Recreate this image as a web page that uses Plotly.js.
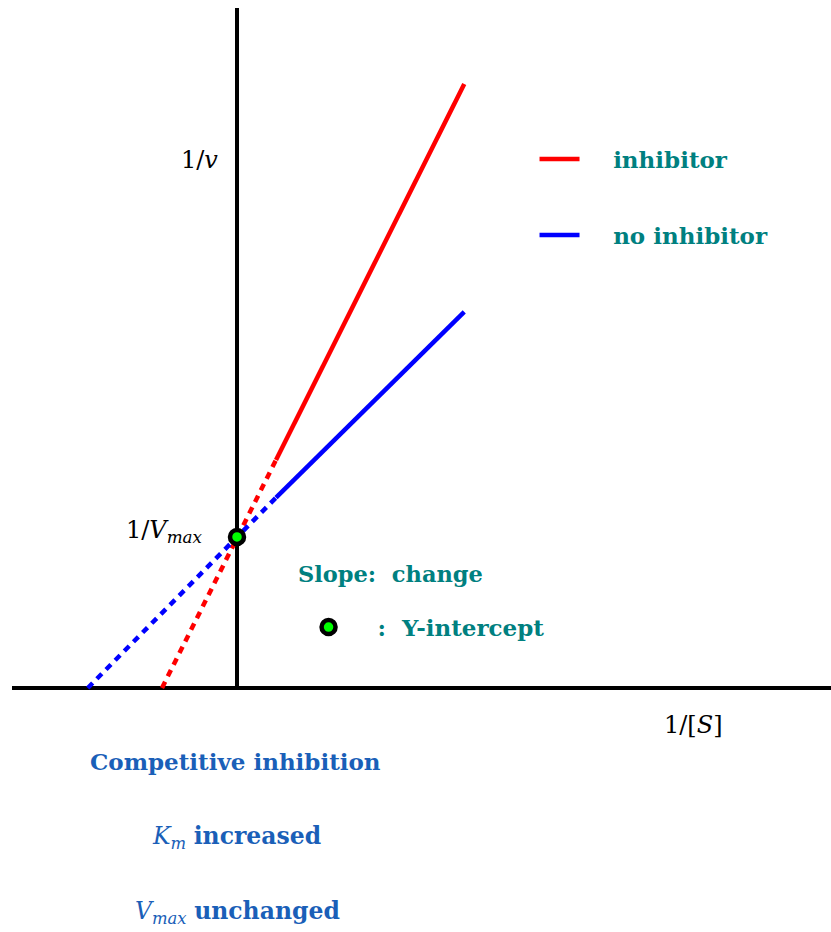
<!DOCTYPE html>
<html>
<head>
<meta charset="utf-8">
<script src="https://cdn.plot.ly/plotly-3.0.1.min.js"></script>
<style>html,body{margin:0;padding:0;background:#fff;}#chart{width:831px;height:932px;}</style>
</head>
<body>
<div id="chart"></div>
<script>
// Lineweaver-Burk data (x = 1/[S], y = 1/v)
const inhibitorExtX = [-1.0, 0.52];
const inhibitorExtY = [0.0, 1.51];
const inhibitorX = [0.52, 3.03];
const inhibitorY = [1.51, 4.0];
const noInhibitorExtX = [-1.99, 0.52];
const noInhibitorExtY = [0.0, 1.26];
const noInhibitorX = [0.52, 3.03];
const noInhibitorY = [1.26, 2.49];
const interceptX = [0];
const interceptY = [1.0];

const seriesNames = ['inhibitor', 'no inhibitor'];
const teal = '#008080';
const textBlue = '#1a5fb8';
const serifB = 'DejaVu Serif';
const mathF = 'DejaVu Serif';
const pad = '\u00a0\u00a0\u00a0\u2009';

const traces = [
  {x: inhibitorExtX, y: inhibitorExtY, mode: 'lines', line: {color: '#ff0000', width: 4.5, dash: '7px,6px'}, showlegend: false, hoverinfo: 'skip'},
  {x: noInhibitorExtX, y: noInhibitorExtY, mode: 'lines', line: {color: '#0000ff', width: 4.5, dash: '7px,6px'}, showlegend: false, hoverinfo: 'skip'},
  {x: inhibitorX, y: inhibitorY, mode: 'lines', name: pad + seriesNames[0], line: {color: '#ff0000', width: 4.5}, legend: 'legend'},
  {x: noInhibitorX, y: noInhibitorY, mode: 'lines', name: pad + seriesNames[1], line: {color: '#0000ff', width: 4.5}, legend: 'legend2'},
  {x: interceptX, y: interceptY, mode: 'markers', name: '\u00a0\u00a0\u00a0:\u00a0\u00a0Y-intercept', marker: {color: '#00ff00', size: 14, line: {color: '#000', width: 4.5}}, legend: 'legend3', cliponaxis: false}
];

const legFont = {family: serifB, size: 23, color: teal, weight: 'bold'};
const legBase = {xanchor: 'left', yanchor: 'middle', font: legFont, bgcolor: 'rgba(0,0,0,0)', borderwidth: 0, itemwidth: 40};
const layout = {
  width: 831, height: 932,
  margin: {l: 12, r: 0, t: 8, b: 0},
  paper_bgcolor: '#fff', plot_bgcolor: '#fff',
  xaxis: {range: [-3, 7.92], visible: false, fixedrange: true},
  yaxis: {range: [-1.616, 4.503], visible: false, fixedrange: true},
  showlegend: true,
  legend: Object.assign({x: 0.638, y: 0.8366}, legBase),
  legend2: Object.assign({x: 0.638, y: 0.7543}, legBase),
  legend3: Object.assign({x: 0.356, y: 0.330}, legBase),
  shapes: [
    {type: 'line', xref: 'paper', yref: 'y', x0: 0, x1: 1, y0: 0, y1: 0, line: {color: '#000', width: 4}, layer: 'below'},
    {type: 'line', xref: 'x', yref: 'y', x0: 0, x1: 0, y0: 0, y1: 4.503, line: {color: '#000', width: 4}, layer: 'below'}
  ],
  annotations: [
    {x: -0.227, y: 3.497, xanchor: 'right', yanchor: 'middle', text: '1/<i>v</i>', showarrow: false, font: {family: mathF, size: 24, color: '#000'}},
    {x: -0.427, y: 1.033, xanchor: 'right', yanchor: 'middle', text: '1/<i>V</i><sub><i>max</i></sub>', showarrow: false, font: {family: mathF, size: 24, color: '#000'}},
    {x: 5.667, y: -0.245, xanchor: 'left', yanchor: 'middle', text: '1/[<i>S</i>]', showarrow: false, font: {family: mathF, size: 24, color: '#000'}},
    {x: 0.787, y: 0.755, xanchor: 'left', yanchor: 'middle', text: '<b>Slope:  change</b>', showarrow: false, font: {family: serifB, size: 22.5, color: teal}},
    {x: -1.987, y: -0.490, xanchor: 'left', yanchor: 'middle', text: '<b>Competitive inhibition</b>', showarrow: false, font: {family: serifB, size: 23, color: textBlue}},
    {x: -1.16, y: -0.993, xanchor: 'left', yanchor: 'middle', text: '<i>K</i><sub><i>m</i></sub> <b>increased</b>', showarrow: false, font: {family: serifB, size: 23.5, color: textBlue}},
    {x: -1.387, y: -1.490, xanchor: 'left', yanchor: 'middle', text: '<i>V</i><sub><i>max</i></sub> <b>unchanged</b>', showarrow: false, font: {family: serifB, size: 23.5, color: textBlue}}
  ]
};

Plotly.newPlot('chart', traces, layout, {displayModeBar: false, staticPlot: true});
</script>
</body>
</html>
